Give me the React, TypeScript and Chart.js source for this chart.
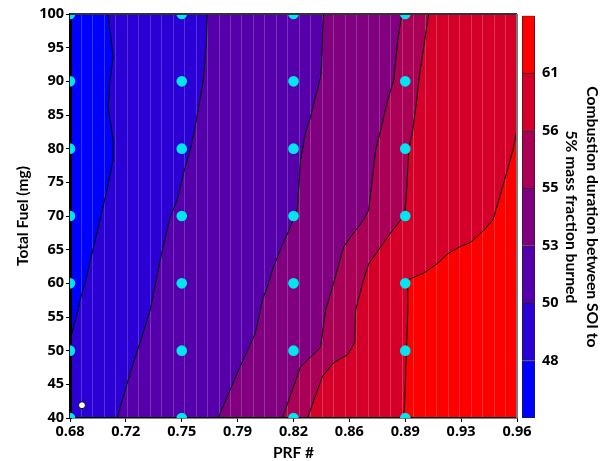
import { useEffect, useRef } from 'react';
import { Chart, registerables } from 'chart.js';

Chart.register(...registerables);

// ---- data ----
const xTickLabels = ['0.68', '0.72', '0.75', '0.79', '0.82', '0.86', '0.89', '0.93', '0.96'];
const levelLabels = ['48', '50', '53', '55', '56', '61'];
const bandColors = ['#0000ff', '#2a00d5', '#5500aa', '#800080', '#aa0055', '#d5002a', '#ff0000'];
const prfSamples = [0.68, 0.75, 0.82, 0.89];
const fuelSamples = [40, 50, 60, 70, 80, 90, 100];
const markerPoint = [0.6875, 41.9];

// contour boundaries: [PRF, fuel] pairs, bottom to top
const bound0: number[][] = [[0.68, 40], [0.68, 100]];
const bound1: number[][] = [
  [0.68, 40], [0.68, 52.0], [0.6813, 52.6], [0.685, 56.0], [0.6863, 57.5], [0.6894, 60.0],
  [0.6944, 65.0], [0.7032, 73.9], [0.707, 78.3], [0.707, 81.3], [0.7039, 86.2],
  [0.7051, 90.2], [0.707, 93.6], [0.7039, 100],
];
const bound2: number[][] = [
  [0.7095, 40], [0.7177, 46.7], [0.7258, 52.6], [0.7302, 56.0], [0.7315, 57.5],
  [0.7365, 63.5], [0.7428, 69.9], [0.7472, 72.4], [0.7516, 76.8], [0.7535, 78.3],
  [0.7553, 79.8], [0.7578, 82.5], [0.7604, 85.9], [0.7635, 90.2], [0.7654, 95.7], [0.766, 100],
];
const bound3: number[][] = [
  [0.7729, 40], [0.7848, 46.7], [0.7961, 52.6], [0.7993, 56.0], [0.8005, 57.5],
  [0.8037, 59.5], [0.8068, 62.0], [0.8118, 65.0], [0.8181, 68.4], [0.8225, 71.3],
  [0.8244, 78.3], [0.8275, 82.3], [0.8307, 84.7], [0.8338, 87.7], [0.8369, 90.6],
  [0.8376, 92.1], [0.8382, 97.2], [0.8388, 100],
];
const bound4: number[][] = [
  [0.8131, 40], [0.8244, 47.6], [0.8369, 50.5], [0.8401, 56.0], [0.842, 57.5],
  [0.8451, 60.0], [0.8514, 65.4], [0.8558, 66.9], [0.8639, 69.4], [0.8671, 70.9],
  [0.8715, 79.8], [0.8746, 82.8], [0.879, 87.2], [0.8828, 90.2], [0.8853, 96.1], [0.8878, 100],
];
const bound5: number[][] = [
  [0.8288, 40], [0.8382, 46.2], [0.8451, 48.2], [0.8539, 49.4], [0.8583, 51.2],
  [0.8589, 56.0], [0.8633, 60.0], [0.8671, 62.9], [0.8746, 65.4], [0.8809, 67.5],
  [0.8897, 70.2], [0.8909, 73.9], [0.8922, 79.8], [0.8947, 82.8], [0.8972, 87.2],
  [0.8985, 90.2], [0.9022, 96.1], [0.9047, 100],
];
const bound6: number[][] = [
  [0.8891, 40], [0.8897, 42.7], [0.8916, 56.0], [0.8916, 60.5], [0.8953, 60.9],
  [0.9016, 61.5], [0.9104, 63.0], [0.9173, 64.5], [0.9248, 65.5], [0.9311, 66.1],
  [0.9393, 67.9], [0.9449, 69.4], [0.9499, 73.4], [0.9575, 79.8], [0.96, 82.8], [0.96, 100],
];
const boundaries = [bound0, bound1, bound2, bound3, bound4, bound5, bound6];

// ---- axis extents / style constants ----
const X_MIN = 0.68;
const X_MAX = 0.96;
const Y_MIN = 40;
const Y_MAX = 100;
const TEXTURE_STEP = 0.28 / 39;
const FONT = 'Lato';
const TICK_FONT = 'Open Sans';

const framePlugin = {
  id: 'frame',
  afterDraw(chart: any) {
    const { ctx, chartArea: a } = chart;
    ctx.save();
    ctx.lineWidth = 2;
    ctx.strokeStyle = '#333';
    ctx.beginPath();
    ctx.moveTo(a.left, a.top);
    ctx.lineTo(a.right, a.top);
    ctx.stroke();
    ctx.strokeStyle = '#777';
    ctx.beginPath();
    ctx.moveTo(a.right, a.top);
    ctx.lineTo(a.right, a.bottom);
    ctx.stroke();
    ctx.restore();
  },
};

export default function App() {
  const mainRef = useRef<HTMLCanvasElement>(null);
  const barRef = useRef<HTMLCanvasElement>(null);

  useEffect(() => {
    const tickFont = { family: TICK_FONT, size: 14.5, weight: 'bold' as const };

    // each region: its left boundary, closed along the right edge of the plot
    const fillSets = boundaries.map((b, i) => ({
      type: 'line' as const,
      data: [...b.map(([x, y]) => ({ x, y })), { x: X_MAX, y: Y_MAX }, { x: X_MAX, y: Y_MIN }],
      xAxisID: 'x',
      yAxisID: 'y',
      backgroundColor: bandColors[i],
      borderColor: 'rgba(0,0,0,0)',
      borderWidth: 0,
      pointRadius: 0,
      tension: 0,
      fill: 'shape',
      order: 100 - i,
    }));

    // contour lines
    const lineSets = boundaries.slice(1).map((b) => ({
      type: 'line' as const,
      data: b.map(([x, y]) => ({ x, y })),
      xAxisID: 'x',
      yAxisID: 'y',
      borderColor: '#000',
      borderWidth: 1,
      pointRadius: 0,
      tension: 0,
      fill: false,
      order: 10,
    }));

    const samplePts: { x: number; y: number }[] = [];
    prfSamples.forEach((x) => fuelSamples.forEach((y) => samplePts.push({ x, y })));

    const main = new Chart(mainRef.current!, {
      type: 'line',
      data: {
        datasets: [
          {
            type: 'scatter' as const,
            data: samplePts,
            xAxisID: 'x',
            yAxisID: 'y',
            backgroundColor: '#00e6f0',
            borderColor: '#00e6f0',
            borderWidth: 0,
            pointRadius: 5.3,
            clip: 0,
            order: 1,
          } as any,
          {
            type: 'scatter' as const,
            data: [{ x: markerPoint[0], y: markerPoint[1] }],
            xAxisID: 'x',
            yAxisID: 'y',
            backgroundColor: '#ffffff',
            borderColor: '#000',
            borderWidth: 1,
            pointRadius: 3.5,
            order: 0,
          } as any,
          ...(lineSets as any[]),
          ...(fillSets as any[]),
        ],
      },
      options: {
        animation: false,
        responsive: false,
        layout: { padding: { left: 0, right: 86, top: 14, bottom: 0 } },
        plugins: {
          legend: { display: false },
          tooltip: { enabled: false },
          filler: { drawTime: 'beforeDraw' } as any,
        },
        scales: {
          x: {
            type: 'linear',
            position: 'bottom',
            min: X_MIN,
            max: X_MAX,
            afterFit: (s: any) => { s.height = 43; },
            ticks: {
              stepSize: 0.035,
              autoSkip: false,
              maxRotation: 0,
              padding: 1,
              color: '#000',
              font: tickFont,
              callback: (_v: any, i: number) => xTickLabels[i] ?? '',
            },
            grid: { drawOnChartArea: false, drawTicks: true, tickLength: 4, color: '#000' },
            border: { color: '#000', width: 1.5 },
            title: {
              display: true,
              text: 'PRF #',
              color: '#000',
              font: { family: FONT, size: 15.5, weight: 'bold', lineHeight: 1 },
              padding: { top: 0, bottom: 0 },
            },
          },
          xg: {
            type: 'linear',
            axis: 'x',
            position: 'bottom',
            min: X_MIN,
            max: X_MAX,
            afterFit: (s: any) => { s.height = 0; },
            ticks: { display: false, stepSize: TEXTURE_STEP, autoSkip: false },
            grid: { color: 'rgba(255,255,255,0.2)', lineWidth: 1, drawTicks: false },
            border: { display: false },
          } as any,
          y: {
            type: 'linear',
            position: 'left',
            min: Y_MIN,
            max: Y_MAX,
            afterFit: (s: any) => { s.width = 70; },
            ticks: { stepSize: 5, padding: 2, color: '#000', font: tickFont },
            grid: { drawOnChartArea: false, drawTicks: true, tickLength: 4, color: '#000' },
            border: { color: '#000', width: 3 },
            title: {
              display: true,
              text: 'Total Fuel (mg)',
              color: '#000',
              font: { family: FONT, size: 15.5, weight: 'bold', lineHeight: 1.2 },
              padding: { top: 14, bottom: 0 },
            },
          },
        },
      } as any,
      plugins: [framePlugin],
    });

    const bar = new Chart(barRef.current!, {
      type: 'bar',
      data: {
        labels: [''],
        datasets: bandColors.map((c, i) => ({
          data: [1],
          backgroundColor: c,
          borderColor: '#222',
          borderWidth: { top: 1, left: 1, right: 1, bottom: i === 0 ? 1 : 0 },
          borderSkipped: false,
          barPercentage: 1,
          categoryPercentage: 1,
        })),
      },
      options: {
        animation: false,
        responsive: false,
        layout: { padding: { left: 17, right: 0, top: 14, bottom: 43 } },
        plugins: { legend: { display: false }, tooltip: { enabled: false } },
        scales: {
          x: { stacked: true, display: false },
          y: {
            stacked: true,
            position: 'right',
            min: 0,
            max: 7,
            afterFit: (s: any) => { s.width = 68; },
            ticks: {
              stepSize: 1,
              padding: 7,
              color: '#000',
              font: tickFont,
              callback: (v: any) => levelLabels[Number(v) - 1] ?? '',
            },
            grid: { display: false, drawTicks: false },
            border: { display: false },
            title: {
              display: true,
              text: ['Combustion duration between SOI to', '5% mass fraction burned'],
              color: '#000',
              font: { family: FONT, size: 15.7, weight: 'bold', lineHeight: 1.35 },
              padding: { top: 0, bottom: 0 },
            },
          },
        },
      } as any,
    });

    return () => {
      main.destroy();
      bar.destroy();
    };
  }, []);

  return (
    <div style={{ position: 'fixed', left: 0, top: 0, width: 603, height: 461, background: '#fff' }}>
      <canvas ref={mainRef} width={603} height={461} style={{ position: 'absolute', left: 0, top: 0 }} />
      <canvas ref={barRef} width={98} height={461} style={{ position: 'absolute', left: 505, top: 0 }} />
    </div>
  );
}
